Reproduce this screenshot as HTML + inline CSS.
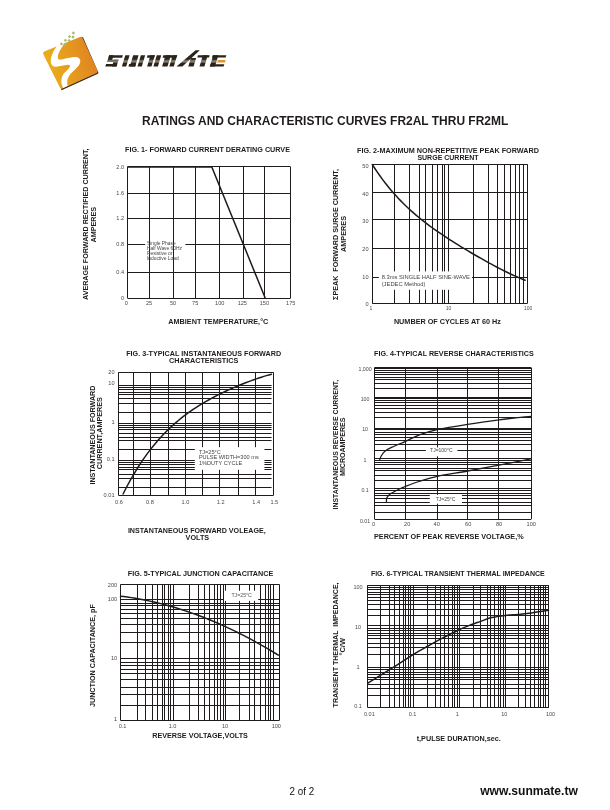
<!DOCTYPE html>
<html><head><meta charset="utf-8"><title>FR2AL THRU FR2ML</title>
<style>
html,body{margin:0;padding:0;background:#fff;}
body{width:610px;height:810px;overflow:hidden;position:relative;}
svg{position:absolute;left:0;top:0;display:block;will-change:transform;}
text{font-family:"Liberation Sans",sans-serif;}
</style></head><body>
<svg width="610" height="810" viewBox="0 0 610 810">
<rect width="610" height="810" fill="#fff"/>
<line x1="127.50" y1="166.90" x2="127.50" y2="298.00" stroke="#1f1b1c" stroke-width="1.05"/>
<line x1="149.50" y1="166.90" x2="149.50" y2="298.00" stroke="#1f1b1c" stroke-width="1.05"/>
<line x1="173.50" y1="166.90" x2="173.50" y2="298.00" stroke="#1f1b1c" stroke-width="1.05"/>
<line x1="195.50" y1="166.90" x2="195.50" y2="298.00" stroke="#1f1b1c" stroke-width="1.05"/>
<line x1="219.50" y1="166.90" x2="219.50" y2="298.00" stroke="#1f1b1c" stroke-width="1.05"/>
<line x1="243.50" y1="166.90" x2="243.50" y2="298.00" stroke="#1f1b1c" stroke-width="1.05"/>
<line x1="264.50" y1="166.90" x2="264.50" y2="298.00" stroke="#1f1b1c" stroke-width="1.05"/>
<line x1="290.50" y1="166.90" x2="290.50" y2="298.00" stroke="#1f1b1c" stroke-width="1.05"/>
<line x1="127.50" y1="166.50" x2="290.50" y2="166.50" stroke="#1f1b1c" stroke-width="1.05"/>
<line x1="127.50" y1="193.50" x2="290.50" y2="193.50" stroke="#1f1b1c" stroke-width="1.05"/>
<line x1="127.50" y1="218.50" x2="290.50" y2="218.50" stroke="#1f1b1c" stroke-width="1.05"/>
<line x1="127.50" y1="244.50" x2="145.20" y2="244.50" stroke="#1f1b1c" stroke-width="1.05"/>
<line x1="185.40" y1="244.50" x2="290.50" y2="244.50" stroke="#1f1b1c" stroke-width="1.05"/>
<line x1="127.50" y1="272.50" x2="290.50" y2="272.50" stroke="#1f1b1c" stroke-width="1.05"/>
<line x1="127.50" y1="298.50" x2="290.50" y2="298.50" stroke="#1f1b1c" stroke-width="1.05"/>
<polyline points="127.5,166.9 211.8,166.9 265.2,298" fill="none" stroke="#1f1b1c" stroke-width="1.5" stroke-linejoin="miter"/>
<text x="146.90" y="244.80" font-size="4.9" font-weight="normal" text-anchor="start" fill="#444">Single Phase</text>
<text x="146.90" y="249.85" font-size="4.9" font-weight="normal" text-anchor="start" fill="#444">Half Wave 60Hz</text>
<text x="146.90" y="254.90" font-size="4.9" font-weight="normal" text-anchor="start" fill="#444">Resistive or</text>
<text x="146.90" y="259.95" font-size="4.9" font-weight="normal" text-anchor="start" fill="#444">Inductive Load</text>
<text x="124.10" y="168.90" font-size="5.6" font-weight="normal" text-anchor="end" fill="#4a4a4a">2.0</text>
<text x="124.10" y="195.40" font-size="5.6" font-weight="normal" text-anchor="end" fill="#4a4a4a">1.6</text>
<text x="124.10" y="220.20" font-size="5.6" font-weight="normal" text-anchor="end" fill="#4a4a4a">1.2</text>
<text x="124.10" y="246.40" font-size="5.6" font-weight="normal" text-anchor="end" fill="#4a4a4a">0.8</text>
<text x="124.10" y="274.30" font-size="5.6" font-weight="normal" text-anchor="end" fill="#4a4a4a">0.4</text>
<text x="124.10" y="300.00" font-size="5.6" font-weight="normal" text-anchor="end" fill="#4a4a4a">0</text>
<text x="126.40" y="305.00" font-size="5.6" font-weight="normal" text-anchor="middle" fill="#4a4a4a">0</text>
<text x="149.00" y="305.00" font-size="5.6" font-weight="normal" text-anchor="middle" fill="#4a4a4a">25</text>
<text x="173.00" y="305.00" font-size="5.6" font-weight="normal" text-anchor="middle" fill="#4a4a4a">50</text>
<text x="195.20" y="305.00" font-size="5.6" font-weight="normal" text-anchor="middle" fill="#4a4a4a">75</text>
<text x="219.70" y="305.00" font-size="5.6" font-weight="normal" text-anchor="middle" fill="#4a4a4a">100</text>
<text x="242.30" y="305.00" font-size="5.6" font-weight="normal" text-anchor="middle" fill="#4a4a4a">125</text>
<text x="264.40" y="305.00" font-size="5.6" font-weight="normal" text-anchor="middle" fill="#4a4a4a">150</text>
<text x="290.70" y="305.00" font-size="5.6" font-weight="normal" text-anchor="middle" fill="#4a4a4a">175</text>
<text x="125.10" y="151.90" font-size="7.2" font-weight="bold" text-anchor="start" fill="#1f1b1c" textLength="164.90" lengthAdjust="spacingAndGlyphs">FIG. 1- FORWARD CURRENT DERATING CURVE</text>
<text x="87.60" y="224.20" font-size="7.2" font-weight="bold" text-anchor="middle" fill="#1f1b1c" textLength="151.60" lengthAdjust="spacingAndGlyphs" transform="rotate(-90 87.60 224.20)">AVERAGE FORWARD RECTIFIED CURRENT,</text>
<text x="96.00" y="224.65" font-size="7.2" font-weight="bold" text-anchor="middle" fill="#1f1b1c" textLength="35.70" lengthAdjust="spacingAndGlyphs" transform="rotate(-90 96.00 224.65)">AMPERES</text>
<text x="168.30" y="323.80" font-size="7.2" font-weight="bold" text-anchor="start" fill="#1f1b1c" textLength="100.00" lengthAdjust="spacingAndGlyphs">AMBIENT TEMPERATURE,°C</text>
<line x1="372.50" y1="164.30" x2="372.50" y2="303.40" stroke="#1f1b1c" stroke-width="1.05"/>
<line x1="394.50" y1="164.30" x2="394.50" y2="303.40" stroke="#1f1b1c" stroke-width="1.05"/>
<line x1="409.50" y1="164.30" x2="409.50" y2="303.40" stroke="#1f1b1c" stroke-width="1.05"/>
<line x1="419.50" y1="164.30" x2="419.50" y2="303.40" stroke="#1f1b1c" stroke-width="1.05"/>
<line x1="425.50" y1="164.30" x2="425.50" y2="303.40" stroke="#1f1b1c" stroke-width="1.05"/>
<line x1="432.50" y1="164.30" x2="432.50" y2="303.40" stroke="#1f1b1c" stroke-width="1.05"/>
<line x1="437.50" y1="164.30" x2="437.50" y2="303.40" stroke="#1f1b1c" stroke-width="1.05"/>
<line x1="442.50" y1="164.30" x2="442.50" y2="303.40" stroke="#1f1b1c" stroke-width="1.05"/>
<line x1="444.50" y1="164.30" x2="444.50" y2="303.40" stroke="#1f1b1c" stroke-width="1.05"/>
<line x1="448.50" y1="164.30" x2="448.50" y2="303.40" stroke="#1f1b1c" stroke-width="1.05"/>
<line x1="473.50" y1="164.30" x2="473.50" y2="303.40" stroke="#1f1b1c" stroke-width="1.05"/>
<line x1="488.50" y1="164.30" x2="488.50" y2="303.40" stroke="#1f1b1c" stroke-width="1.05"/>
<line x1="497.50" y1="164.30" x2="497.50" y2="303.40" stroke="#1f1b1c" stroke-width="1.05"/>
<line x1="504.50" y1="164.30" x2="504.50" y2="303.40" stroke="#1f1b1c" stroke-width="1.05"/>
<line x1="510.50" y1="164.30" x2="510.50" y2="303.40" stroke="#1f1b1c" stroke-width="1.05"/>
<line x1="515.50" y1="164.30" x2="515.50" y2="303.40" stroke="#1f1b1c" stroke-width="1.05"/>
<line x1="519.50" y1="164.30" x2="519.50" y2="303.40" stroke="#1f1b1c" stroke-width="1.05"/>
<line x1="523.50" y1="164.30" x2="523.50" y2="303.40" stroke="#1f1b1c" stroke-width="1.05"/>
<line x1="527.50" y1="164.30" x2="527.50" y2="303.40" stroke="#1f1b1c" stroke-width="1.05"/>
<line x1="372.30" y1="164.50" x2="527.40" y2="164.50" stroke="#1f1b1c" stroke-width="1.05"/>
<line x1="372.30" y1="192.50" x2="527.40" y2="192.50" stroke="#1f1b1c" stroke-width="1.05"/>
<line x1="372.30" y1="219.50" x2="527.40" y2="219.50" stroke="#1f1b1c" stroke-width="1.05"/>
<line x1="372.30" y1="248.50" x2="527.40" y2="248.50" stroke="#1f1b1c" stroke-width="1.05"/>
<line x1="372.30" y1="277.50" x2="527.40" y2="277.50" stroke="#1f1b1c" stroke-width="1.05"/>
<line x1="372.30" y1="303.50" x2="527.40" y2="303.50" stroke="#1f1b1c" stroke-width="1.05"/>
<rect x="378.80" y="271.40" width="93.20" height="18.40" fill="#fff"/>
<text x="381.70" y="279.00" font-size="5.8" font-weight="normal" text-anchor="start" fill="#444" textLength="88.30" lengthAdjust="spacingAndGlyphs">8.3ms SINGLE HALF SINE-WAVE</text>
<text x="381.70" y="285.60" font-size="5.8" font-weight="normal" text-anchor="start" fill="#444" textLength="43.80" lengthAdjust="spacingAndGlyphs">(JEDEC Method)</text>
<path d="M372.30,164.53 L374.89,168.53 L377.48,172.37 L380.07,176.05 L382.66,179.59 L385.25,183.00 L387.84,186.27 L390.43,189.41 L393.02,192.44 L395.61,195.36 L398.20,198.17 L400.79,200.88 L403.38,203.49 L405.97,206.02 L408.56,208.46 L411.15,210.83 L413.74,213.12 L416.33,215.34 L418.92,217.50 L421.51,219.60 L424.10,221.64 L426.69,223.64 L429.28,225.58 L431.87,227.48 L434.46,229.34 L437.05,231.16 L439.64,232.95 L442.23,234.70 L444.82,236.43 L447.41,238.13 L449.99,239.80 L452.58,241.45 L455.17,243.08 L457.76,244.69 L460.35,246.28 L462.94,247.86 L465.53,249.42 L468.12,250.96 L470.71,252.49 L473.30,254.00 L475.89,255.51 L478.48,256.99 L481.07,258.47 L483.66,259.93 L486.25,261.37 L488.84,262.80 L491.43,264.21 L494.02,265.60 L496.61,266.98 L499.20,268.33 L501.79,269.66 L504.38,270.97 L506.97,272.25 L509.56,273.50 L512.15,274.72 L514.74,275.91 L517.33,277.06 L519.92,278.16 L522.51,279.23 L525.10,280.25" fill="none" stroke="#1f1b1c" stroke-width="1.5" stroke-linecap="round" stroke-linejoin="round"/>
<text x="368.50" y="168.30" font-size="5.6" font-weight="normal" text-anchor="end" fill="#4a4a4a">50</text>
<text x="368.50" y="195.80" font-size="5.6" font-weight="normal" text-anchor="end" fill="#4a4a4a">40</text>
<text x="368.50" y="222.60" font-size="5.6" font-weight="normal" text-anchor="end" fill="#4a4a4a">30</text>
<text x="368.50" y="251.10" font-size="5.6" font-weight="normal" text-anchor="end" fill="#4a4a4a">20</text>
<text x="368.50" y="278.60" font-size="5.6" font-weight="normal" text-anchor="end" fill="#4a4a4a">10</text>
<text x="368.50" y="305.60" font-size="5.6" font-weight="normal" text-anchor="end" fill="#4a4a4a">0</text>
<text x="370.90" y="310.30" font-size="5.0" font-weight="normal" text-anchor="middle" fill="#4a4a4a">1</text>
<text x="448.50" y="310.30" font-size="5.0" font-weight="normal" text-anchor="middle" fill="#4a4a4a">10</text>
<text x="528.10" y="310.30" font-size="5.0" font-weight="normal" text-anchor="middle" fill="#4a4a4a">100</text>
<text x="357.00" y="152.70" font-size="7.2" font-weight="bold" text-anchor="start" fill="#1f1b1c" textLength="181.90" lengthAdjust="spacingAndGlyphs">FIG. 2-MAXIMUM NON-REPETITIVE PEAK FORWARD</text>
<text x="417.40" y="159.90" font-size="7.2" font-weight="bold" text-anchor="start" fill="#1f1b1c" textLength="61.10" lengthAdjust="spacingAndGlyphs">SURGE CURRENT</text>
<text x="338.00" y="234.50" font-size="7.2" font-weight="bold" text-anchor="middle" fill="#1f1b1c" textLength="130.80" lengthAdjust="spacingAndGlyphs" transform="rotate(-90 338.00 234.50)" style="white-space:pre">ΣPEAK  FORWARD SURGE CURRENT,</text>
<text x="345.90" y="234.00" font-size="7.2" font-weight="bold" text-anchor="middle" fill="#1f1b1c" textLength="36.00" lengthAdjust="spacingAndGlyphs" transform="rotate(-90 345.90 234.00)">AMPERES</text>
<text x="393.90" y="324.00" font-size="7.2" font-weight="bold" text-anchor="start" fill="#1f1b1c" textLength="107.10" lengthAdjust="spacingAndGlyphs">NUMBER OF CYCLES AT 60 Hz</text>
<line x1="118.40" y1="372.50" x2="273.60" y2="372.50" stroke="#1f1b1c" stroke-width="1.05"/>
<line x1="118.40" y1="495.50" x2="273.60" y2="495.50" stroke="#1f1b1c" stroke-width="1.05"/>
<line x1="118.50" y1="372.40" x2="118.50" y2="495.20" stroke="#1f1b1c" stroke-width="1.05"/>
<line x1="273.50" y1="372.40" x2="273.50" y2="495.20" stroke="#1f1b1c" stroke-width="1.05"/>
<line x1="133.50" y1="372.40" x2="133.50" y2="495.20" stroke="#1f1b1c" stroke-width="1.05"/>
<line x1="150.50" y1="372.40" x2="150.50" y2="495.20" stroke="#1f1b1c" stroke-width="1.05"/>
<line x1="168.50" y1="372.40" x2="168.50" y2="495.20" stroke="#1f1b1c" stroke-width="1.05"/>
<line x1="185.50" y1="372.40" x2="185.50" y2="495.20" stroke="#1f1b1c" stroke-width="1.05"/>
<line x1="202.50" y1="372.40" x2="202.50" y2="447.20" stroke="#1f1b1c" stroke-width="1.05"/>
<line x1="202.50" y1="469.80" x2="202.50" y2="495.20" stroke="#1f1b1c" stroke-width="1.05"/>
<line x1="219.50" y1="372.40" x2="219.50" y2="447.20" stroke="#1f1b1c" stroke-width="1.05"/>
<line x1="219.50" y1="469.80" x2="219.50" y2="495.20" stroke="#1f1b1c" stroke-width="1.05"/>
<line x1="238.50" y1="372.40" x2="238.50" y2="447.20" stroke="#1f1b1c" stroke-width="1.05"/>
<line x1="238.50" y1="469.80" x2="238.50" y2="495.20" stroke="#1f1b1c" stroke-width="1.05"/>
<line x1="255.50" y1="372.40" x2="255.50" y2="447.20" stroke="#1f1b1c" stroke-width="1.05"/>
<line x1="255.50" y1="469.80" x2="255.50" y2="495.20" stroke="#1f1b1c" stroke-width="1.05"/>
<line x1="118.40" y1="385.50" x2="271.60" y2="385.50" stroke="#1f1b1c" stroke-width="1.05"/>
<line x1="118.40" y1="387.50" x2="271.60" y2="387.50" stroke="#1f1b1c" stroke-width="1.05"/>
<line x1="118.40" y1="389.50" x2="271.60" y2="389.50" stroke="#1f1b1c" stroke-width="1.05"/>
<line x1="118.40" y1="392.50" x2="271.60" y2="392.50" stroke="#1f1b1c" stroke-width="1.05"/>
<line x1="118.40" y1="394.50" x2="271.60" y2="394.50" stroke="#1f1b1c" stroke-width="1.05"/>
<line x1="118.40" y1="398.50" x2="271.60" y2="398.50" stroke="#1f1b1c" stroke-width="1.05"/>
<line x1="118.40" y1="403.50" x2="271.60" y2="403.50" stroke="#1f1b1c" stroke-width="1.05"/>
<line x1="118.40" y1="412.50" x2="271.60" y2="412.50" stroke="#1f1b1c" stroke-width="1.05"/>
<line x1="118.40" y1="423.50" x2="271.60" y2="423.50" stroke="#1f1b1c" stroke-width="1.05"/>
<line x1="118.40" y1="425.50" x2="271.60" y2="425.50" stroke="#1f1b1c" stroke-width="1.05"/>
<line x1="118.40" y1="427.50" x2="271.60" y2="427.50" stroke="#1f1b1c" stroke-width="1.05"/>
<line x1="118.40" y1="429.50" x2="271.60" y2="429.50" stroke="#1f1b1c" stroke-width="1.05"/>
<line x1="118.40" y1="433.50" x2="271.60" y2="433.50" stroke="#1f1b1c" stroke-width="1.05"/>
<line x1="118.40" y1="437.50" x2="271.60" y2="437.50" stroke="#1f1b1c" stroke-width="1.05"/>
<line x1="118.40" y1="440.50" x2="271.60" y2="440.50" stroke="#1f1b1c" stroke-width="1.05"/>
<line x1="118.40" y1="449.50" x2="194.80" y2="449.50" stroke="#1f1b1c" stroke-width="1.05"/>
<line x1="264.40" y1="449.50" x2="271.60" y2="449.50" stroke="#1f1b1c" stroke-width="1.05"/>
<line x1="118.40" y1="460.50" x2="194.80" y2="460.50" stroke="#1f1b1c" stroke-width="1.05"/>
<line x1="264.40" y1="460.50" x2="271.60" y2="460.50" stroke="#1f1b1c" stroke-width="1.05"/>
<line x1="118.40" y1="462.50" x2="194.80" y2="462.50" stroke="#1f1b1c" stroke-width="1.05"/>
<line x1="264.40" y1="462.50" x2="271.60" y2="462.50" stroke="#1f1b1c" stroke-width="1.05"/>
<line x1="118.40" y1="464.50" x2="194.80" y2="464.50" stroke="#1f1b1c" stroke-width="1.05"/>
<line x1="264.40" y1="464.50" x2="271.60" y2="464.50" stroke="#1f1b1c" stroke-width="1.05"/>
<line x1="118.40" y1="467.50" x2="194.80" y2="467.50" stroke="#1f1b1c" stroke-width="1.05"/>
<line x1="264.40" y1="467.50" x2="271.60" y2="467.50" stroke="#1f1b1c" stroke-width="1.05"/>
<line x1="118.40" y1="469.50" x2="194.80" y2="469.50" stroke="#1f1b1c" stroke-width="1.05"/>
<line x1="264.40" y1="469.50" x2="271.60" y2="469.50" stroke="#1f1b1c" stroke-width="1.05"/>
<line x1="118.40" y1="474.50" x2="271.60" y2="474.50" stroke="#1f1b1c" stroke-width="1.05"/>
<line x1="118.40" y1="478.50" x2="271.60" y2="478.50" stroke="#1f1b1c" stroke-width="1.05"/>
<line x1="118.40" y1="487.50" x2="271.60" y2="487.50" stroke="#1f1b1c" stroke-width="1.05"/>
<text x="198.90" y="453.50" font-size="5.6" font-weight="normal" text-anchor="start" fill="#444">TJ=25°C</text>
<text x="198.90" y="458.60" font-size="5.6" font-weight="normal" text-anchor="start" fill="#444" textLength="59.80" lengthAdjust="spacingAndGlyphs">PULSE WIDTH=300 ms</text>
<text x="198.90" y="464.70" font-size="5.6" font-weight="normal" text-anchor="start" fill="#444">1%DUTY CYCLE</text>
<path d="M123.10,494.00 L125.61,489.03 L128.13,484.26 L130.64,479.68 L133.15,475.29 L135.67,471.07 L138.18,467.02 L140.69,463.14 L143.21,459.41 L145.72,455.84 L148.24,452.41 L150.75,449.11 L153.26,445.95 L155.78,442.92 L158.29,440.01 L160.80,437.21 L163.32,434.53 L165.83,431.95 L168.34,429.47 L170.86,427.09 L173.37,424.79 L175.88,422.58 L178.40,420.46 L180.91,418.41 L183.43,416.44 L185.94,414.54 L188.45,412.70 L190.97,410.92 L193.48,409.21 L195.99,407.55 L198.51,405.94 L201.02,404.38 L203.53,402.87 L206.05,401.41 L208.56,399.99 L211.07,398.60 L213.59,397.26 L216.10,395.95 L218.62,394.67 L221.13,393.43 L223.64,392.22 L226.16,391.03 L228.67,389.88 L231.18,388.75 L233.70,387.65 L236.21,386.58 L238.72,385.53 L241.24,384.50 L243.75,383.50 L246.26,382.53 L248.78,381.58 L251.29,380.65 L253.81,379.75 L256.32,378.87 L258.83,378.03 L261.35,377.21 L263.86,376.41 L266.37,375.65 L268.89,374.92 L271.40,374.22" fill="none" stroke="#1f1b1c" stroke-width="1.5" stroke-linecap="round" stroke-linejoin="round"/>
<text x="114.50" y="374.20" font-size="5.6" font-weight="normal" text-anchor="end" fill="#4a4a4a">20</text>
<text x="114.50" y="384.90" font-size="5.6" font-weight="normal" text-anchor="end" fill="#4a4a4a">10</text>
<text x="114.50" y="423.90" font-size="5.6" font-weight="normal" text-anchor="end" fill="#4a4a4a">1</text>
<text x="114.50" y="461.00" font-size="5.6" font-weight="normal" text-anchor="end" fill="#4a4a4a">0.1</text>
<text x="114.50" y="496.80" font-size="5.6" font-weight="normal" text-anchor="end" fill="#4a4a4a">0.01</text>
<text x="119.00" y="504.00" font-size="5.6" font-weight="normal" text-anchor="middle" fill="#4a4a4a">0.6</text>
<text x="149.90" y="504.00" font-size="5.6" font-weight="normal" text-anchor="middle" fill="#4a4a4a">0.8</text>
<text x="185.40" y="504.00" font-size="5.6" font-weight="normal" text-anchor="middle" fill="#4a4a4a">1.0</text>
<text x="220.70" y="504.00" font-size="5.6" font-weight="normal" text-anchor="middle" fill="#4a4a4a">1.2</text>
<text x="256.20" y="504.00" font-size="5.6" font-weight="normal" text-anchor="middle" fill="#4a4a4a">1.4</text>
<text x="274.30" y="504.00" font-size="5.6" font-weight="normal" text-anchor="middle" fill="#4a4a4a">1.5</text>
<text x="126.20" y="356.30" font-size="7.2" font-weight="bold" text-anchor="start" fill="#1f1b1c" textLength="154.90" lengthAdjust="spacingAndGlyphs">FIG. 3-TYPICAL INSTANTANEOUS FORWARD</text>
<text x="169.00" y="362.80" font-size="7.2" font-weight="bold" text-anchor="start" fill="#1f1b1c" textLength="69.30" lengthAdjust="spacingAndGlyphs">CHARACTERISTICS</text>
<text x="95.00" y="435.10" font-size="7.2" font-weight="bold" text-anchor="middle" fill="#1f1b1c" textLength="99.00" lengthAdjust="spacingAndGlyphs" transform="rotate(-90 95.00 435.10)">INSTANTANEOUS FORWARD</text>
<text x="102.50" y="433.20" font-size="7.2" font-weight="bold" text-anchor="middle" fill="#1f1b1c" textLength="72.00" lengthAdjust="spacingAndGlyphs" transform="rotate(-90 102.50 433.20)">CURRENT,AMPERES</text>
<text x="127.90" y="532.80" font-size="7.2" font-weight="bold" text-anchor="start" fill="#1f1b1c" textLength="137.80" lengthAdjust="spacingAndGlyphs">INSTANTANEOUS FORWARD VOLEAGE,</text>
<text x="185.60" y="540.30" font-size="7.2" font-weight="bold" text-anchor="start" fill="#1f1b1c" textLength="23.60" lengthAdjust="spacingAndGlyphs">VOLTS</text>
<line x1="374.50" y1="367.90" x2="374.50" y2="519.10" stroke="#1f1b1c" stroke-width="1.05"/>
<line x1="405.50" y1="367.90" x2="405.50" y2="519.10" stroke="#1f1b1c" stroke-width="1.05"/>
<line x1="437.50" y1="367.90" x2="437.50" y2="519.10" stroke="#1f1b1c" stroke-width="1.05"/>
<line x1="467.50" y1="367.90" x2="467.50" y2="519.10" stroke="#1f1b1c" stroke-width="1.05"/>
<line x1="498.50" y1="367.90" x2="498.50" y2="519.10" stroke="#1f1b1c" stroke-width="1.05"/>
<line x1="531.50" y1="367.90" x2="531.50" y2="519.10" stroke="#1f1b1c" stroke-width="1.05"/>
<line x1="374.60" y1="370.50" x2="531.20" y2="370.50" stroke="#1f1b1c" stroke-width="1.05"/>
<line x1="374.60" y1="372.50" x2="531.20" y2="372.50" stroke="#1f1b1c" stroke-width="1.05"/>
<line x1="374.60" y1="374.50" x2="531.20" y2="374.50" stroke="#1f1b1c" stroke-width="1.05"/>
<line x1="374.60" y1="377.50" x2="531.20" y2="377.50" stroke="#1f1b1c" stroke-width="1.05"/>
<line x1="374.60" y1="379.50" x2="531.20" y2="379.50" stroke="#1f1b1c" stroke-width="1.05"/>
<line x1="374.60" y1="383.50" x2="531.20" y2="383.50" stroke="#1f1b1c" stroke-width="1.05"/>
<line x1="374.60" y1="388.50" x2="531.20" y2="388.50" stroke="#1f1b1c" stroke-width="1.05"/>
<line x1="374.60" y1="397.50" x2="531.20" y2="397.50" stroke="#1f1b1c" stroke-width="1.05"/>
<line x1="374.60" y1="400.50" x2="531.20" y2="400.50" stroke="#1f1b1c" stroke-width="1.05"/>
<line x1="374.60" y1="402.50" x2="531.20" y2="402.50" stroke="#1f1b1c" stroke-width="1.05"/>
<line x1="374.60" y1="405.50" x2="531.20" y2="405.50" stroke="#1f1b1c" stroke-width="1.05"/>
<line x1="374.60" y1="408.50" x2="531.20" y2="408.50" stroke="#1f1b1c" stroke-width="1.05"/>
<line x1="374.60" y1="412.50" x2="531.20" y2="412.50" stroke="#1f1b1c" stroke-width="1.05"/>
<line x1="374.60" y1="417.50" x2="531.20" y2="417.50" stroke="#1f1b1c" stroke-width="1.05"/>
<line x1="374.60" y1="428.50" x2="531.20" y2="428.50" stroke="#1f1b1c" stroke-width="1.05"/>
<line x1="374.60" y1="432.50" x2="531.20" y2="432.50" stroke="#1f1b1c" stroke-width="1.05"/>
<line x1="374.60" y1="434.50" x2="531.20" y2="434.50" stroke="#1f1b1c" stroke-width="1.05"/>
<line x1="374.60" y1="437.50" x2="531.20" y2="437.50" stroke="#1f1b1c" stroke-width="1.05"/>
<line x1="374.60" y1="440.50" x2="531.20" y2="440.50" stroke="#1f1b1c" stroke-width="1.05"/>
<line x1="374.60" y1="444.50" x2="531.20" y2="444.50" stroke="#1f1b1c" stroke-width="1.05"/>
<line x1="374.60" y1="450.50" x2="425.90" y2="450.50" stroke="#1f1b1c" stroke-width="1.05"/>
<line x1="457.40" y1="450.50" x2="531.20" y2="450.50" stroke="#1f1b1c" stroke-width="1.05"/>
<line x1="374.60" y1="458.50" x2="531.20" y2="458.50" stroke="#1f1b1c" stroke-width="1.05"/>
<line x1="374.60" y1="460.50" x2="531.20" y2="460.50" stroke="#1f1b1c" stroke-width="1.05"/>
<line x1="374.60" y1="462.50" x2="531.20" y2="462.50" stroke="#1f1b1c" stroke-width="1.05"/>
<line x1="374.60" y1="464.50" x2="531.20" y2="464.50" stroke="#1f1b1c" stroke-width="1.05"/>
<line x1="374.60" y1="468.50" x2="531.20" y2="468.50" stroke="#1f1b1c" stroke-width="1.05"/>
<line x1="374.60" y1="470.50" x2="531.20" y2="470.50" stroke="#1f1b1c" stroke-width="1.05"/>
<line x1="374.60" y1="475.50" x2="531.20" y2="475.50" stroke="#1f1b1c" stroke-width="1.05"/>
<line x1="374.60" y1="480.50" x2="531.20" y2="480.50" stroke="#1f1b1c" stroke-width="1.05"/>
<line x1="374.60" y1="488.50" x2="531.20" y2="488.50" stroke="#1f1b1c" stroke-width="1.05"/>
<line x1="374.60" y1="490.50" x2="531.20" y2="490.50" stroke="#1f1b1c" stroke-width="1.05"/>
<line x1="374.60" y1="493.50" x2="531.20" y2="493.50" stroke="#1f1b1c" stroke-width="1.05"/>
<line x1="374.60" y1="495.50" x2="429.80" y2="495.50" stroke="#1f1b1c" stroke-width="1.05"/>
<line x1="461.90" y1="495.50" x2="531.20" y2="495.50" stroke="#1f1b1c" stroke-width="1.05"/>
<line x1="374.60" y1="498.50" x2="429.80" y2="498.50" stroke="#1f1b1c" stroke-width="1.05"/>
<line x1="461.90" y1="498.50" x2="531.20" y2="498.50" stroke="#1f1b1c" stroke-width="1.05"/>
<line x1="374.60" y1="502.50" x2="429.80" y2="502.50" stroke="#1f1b1c" stroke-width="1.05"/>
<line x1="461.90" y1="502.50" x2="531.20" y2="502.50" stroke="#1f1b1c" stroke-width="1.05"/>
<line x1="374.60" y1="505.50" x2="531.20" y2="505.50" stroke="#1f1b1c" stroke-width="1.05"/>
<line x1="374.60" y1="512.50" x2="531.20" y2="512.50" stroke="#1f1b1c" stroke-width="1.05"/>
<line x1="374.60" y1="367.50" x2="531.20" y2="367.50" stroke="#1f1b1c" stroke-width="1.05"/>
<line x1="374.60" y1="519.50" x2="531.20" y2="519.50" stroke="#1f1b1c" stroke-width="1.05"/>
<line x1="374.60" y1="368.00" x2="531.20" y2="368.00" stroke="#1f1b1c" stroke-width="2.0"/>
<line x1="374.60" y1="398.00" x2="531.20" y2="398.00" stroke="#1f1b1c" stroke-width="2.0"/>
<line x1="374.60" y1="429.00" x2="531.20" y2="429.00" stroke="#1f1b1c" stroke-width="2.0"/>
<rect x="426.40" y="447.40" width="30.50" height="8.90" fill="#fff"/>
<rect x="430.30" y="494.80" width="31.10" height="8.80" fill="#fff"/>
<text x="441.30" y="452.40" font-size="5.0" font-weight="normal" text-anchor="middle" fill="#444">TJ=100°C</text>
<text x="445.50" y="501.10" font-size="5.0" font-weight="normal" text-anchor="middle" fill="#444">TJ=25°C</text>
<path d="M379.70,459.70 C380.00,459.00 380.62,456.92 381.50,455.50 C382.38,454.08 383.25,452.58 385.00,451.20 C386.75,449.82 388.58,448.85 392.00,447.20 C395.42,445.55 400.83,443.40 405.50,441.30 C410.17,439.20 414.70,436.53 420.00,434.60 C425.30,432.67 429.37,431.40 437.30,429.70 C445.23,428.00 457.30,426.05 467.60,424.40 C477.90,422.75 488.57,421.15 499.10,419.80 C509.63,418.45 525.52,416.88 530.80,416.30" fill="none" stroke="#1f1b1c" stroke-width="1.3" stroke-linecap="round" stroke-linejoin="round"/>
<path d="M386.50,501.80 C386.53,501.22 386.20,499.53 386.70,498.30 C387.20,497.07 387.40,495.95 389.50,494.40 C391.60,492.85 396.68,490.32 399.30,489.00 C401.92,487.68 401.92,487.75 405.20,486.50 C408.48,485.25 413.65,483.20 419.00,481.50 C424.35,479.80 429.20,478.05 437.30,476.30 C445.40,474.55 457.30,472.87 467.60,471.00 C477.90,469.13 488.57,467.13 499.10,465.10 C509.63,463.07 525.52,459.85 530.80,458.80" fill="none" stroke="#1f1b1c" stroke-width="1.3" stroke-linecap="round" stroke-linejoin="round"/>
<text x="365.10" y="371.00" font-size="5.3" font-weight="normal" text-anchor="middle" fill="#4a4a4a">1,000</text>
<text x="365.10" y="401.00" font-size="5.3" font-weight="normal" text-anchor="middle" fill="#4a4a4a">100</text>
<text x="365.10" y="430.70" font-size="5.3" font-weight="normal" text-anchor="middle" fill="#4a4a4a">10</text>
<text x="365.10" y="462.10" font-size="5.3" font-weight="normal" text-anchor="middle" fill="#4a4a4a">1</text>
<text x="365.10" y="491.80" font-size="5.3" font-weight="normal" text-anchor="middle" fill="#4a4a4a">0.1</text>
<text x="365.10" y="522.90" font-size="5.3" font-weight="normal" text-anchor="middle" fill="#4a4a4a">0.01</text>
<text x="373.60" y="526.00" font-size="5.6" font-weight="normal" text-anchor="middle" fill="#4a4a4a">0</text>
<text x="407.20" y="526.00" font-size="5.6" font-weight="normal" text-anchor="middle" fill="#4a4a4a">20</text>
<text x="436.70" y="526.00" font-size="5.6" font-weight="normal" text-anchor="middle" fill="#4a4a4a">40</text>
<text x="468.20" y="526.00" font-size="5.6" font-weight="normal" text-anchor="middle" fill="#4a4a4a">60</text>
<text x="499.10" y="526.00" font-size="5.6" font-weight="normal" text-anchor="middle" fill="#4a4a4a">80</text>
<text x="531.20" y="526.00" font-size="5.6" font-weight="normal" text-anchor="middle" fill="#4a4a4a">100</text>
<text x="374.00" y="355.90" font-size="7.2" font-weight="bold" text-anchor="start" fill="#1f1b1c" textLength="159.80" lengthAdjust="spacingAndGlyphs">FIG. 4-TYPICAL REVERSE CHARACTERISTICS</text>
<text x="337.90" y="444.60" font-size="7.2" font-weight="bold" text-anchor="middle" fill="#1f1b1c" textLength="129.60" lengthAdjust="spacingAndGlyphs" transform="rotate(-90 337.90 444.60)">INSTANTANEOUS REVERSE CURRENT,</text>
<text x="345.20" y="446.80" font-size="7.2" font-weight="bold" text-anchor="middle" fill="#1f1b1c" textLength="58.40" lengthAdjust="spacingAndGlyphs" transform="rotate(-90 345.20 446.80)">MICROAMPERES</text>
<text x="374.00" y="539.30" font-size="7.2" font-weight="bold" text-anchor="start" fill="#1f1b1c" textLength="149.60" lengthAdjust="spacingAndGlyphs">PERCENT OF PEAK REVERSE VOLTAGE,%</text>
<line x1="120.40" y1="584.50" x2="279.50" y2="584.50" stroke="#1f1b1c" stroke-width="1.05"/>
<line x1="120.40" y1="720.50" x2="279.50" y2="720.50" stroke="#1f1b1c" stroke-width="1.05"/>
<line x1="120.50" y1="584.50" x2="120.50" y2="720.20" stroke="#1f1b1c" stroke-width="1.05"/>
<line x1="137.50" y1="584.50" x2="137.50" y2="720.20" stroke="#1f1b1c" stroke-width="1.05"/>
<line x1="145.50" y1="584.50" x2="145.50" y2="720.20" stroke="#1f1b1c" stroke-width="1.05"/>
<line x1="152.50" y1="584.50" x2="152.50" y2="720.20" stroke="#1f1b1c" stroke-width="1.05"/>
<line x1="157.50" y1="584.50" x2="157.50" y2="720.20" stroke="#1f1b1c" stroke-width="1.05"/>
<line x1="162.50" y1="584.50" x2="162.50" y2="720.20" stroke="#1f1b1c" stroke-width="1.05"/>
<line x1="164.50" y1="584.50" x2="164.50" y2="720.20" stroke="#1f1b1c" stroke-width="1.05"/>
<line x1="168.50" y1="584.50" x2="168.50" y2="720.20" stroke="#1f1b1c" stroke-width="1.05"/>
<line x1="170.50" y1="584.50" x2="170.50" y2="720.20" stroke="#1f1b1c" stroke-width="1.05"/>
<line x1="173.50" y1="584.50" x2="173.50" y2="720.20" stroke="#1f1b1c" stroke-width="1.05"/>
<line x1="189.50" y1="584.50" x2="189.50" y2="720.20" stroke="#1f1b1c" stroke-width="1.05"/>
<line x1="198.50" y1="584.50" x2="198.50" y2="720.20" stroke="#1f1b1c" stroke-width="1.05"/>
<line x1="204.50" y1="584.50" x2="204.50" y2="720.20" stroke="#1f1b1c" stroke-width="1.05"/>
<line x1="209.50" y1="584.50" x2="209.50" y2="720.20" stroke="#1f1b1c" stroke-width="1.05"/>
<line x1="214.50" y1="584.50" x2="214.50" y2="720.20" stroke="#1f1b1c" stroke-width="1.05"/>
<line x1="217.50" y1="584.50" x2="217.50" y2="720.20" stroke="#1f1b1c" stroke-width="1.05"/>
<line x1="220.50" y1="584.50" x2="220.50" y2="720.20" stroke="#1f1b1c" stroke-width="1.05"/>
<line x1="223.50" y1="584.50" x2="223.50" y2="720.20" stroke="#1f1b1c" stroke-width="1.05"/>
<line x1="225.50" y1="584.50" x2="225.50" y2="590.70" stroke="#1f1b1c" stroke-width="1.05"/>
<line x1="225.50" y1="600.90" x2="225.50" y2="720.20" stroke="#1f1b1c" stroke-width="1.05"/>
<line x1="239.50" y1="584.50" x2="239.50" y2="590.70" stroke="#1f1b1c" stroke-width="1.05"/>
<line x1="239.50" y1="600.90" x2="239.50" y2="720.20" stroke="#1f1b1c" stroke-width="1.05"/>
<line x1="249.50" y1="584.50" x2="249.50" y2="590.70" stroke="#1f1b1c" stroke-width="1.05"/>
<line x1="249.50" y1="600.90" x2="249.50" y2="720.20" stroke="#1f1b1c" stroke-width="1.05"/>
<line x1="254.50" y1="584.50" x2="254.50" y2="590.70" stroke="#1f1b1c" stroke-width="1.05"/>
<line x1="254.50" y1="600.90" x2="254.50" y2="720.20" stroke="#1f1b1c" stroke-width="1.05"/>
<line x1="260.50" y1="584.50" x2="260.50" y2="720.20" stroke="#1f1b1c" stroke-width="1.05"/>
<line x1="265.50" y1="584.50" x2="265.50" y2="720.20" stroke="#1f1b1c" stroke-width="1.05"/>
<line x1="268.50" y1="584.50" x2="268.50" y2="720.20" stroke="#1f1b1c" stroke-width="1.05"/>
<line x1="270.50" y1="584.50" x2="270.50" y2="720.20" stroke="#1f1b1c" stroke-width="1.05"/>
<line x1="273.50" y1="584.50" x2="273.50" y2="720.20" stroke="#1f1b1c" stroke-width="1.05"/>
<line x1="279.50" y1="584.50" x2="279.50" y2="720.20" stroke="#1f1b1c" stroke-width="1.05"/>
<line x1="120.40" y1="599.50" x2="223.60" y2="599.50" stroke="#1f1b1c" stroke-width="1.05"/>
<line x1="258.20" y1="599.50" x2="279.50" y2="599.50" stroke="#1f1b1c" stroke-width="1.05"/>
<line x1="120.40" y1="603.50" x2="279.50" y2="603.50" stroke="#1f1b1c" stroke-width="1.05"/>
<line x1="120.40" y1="605.50" x2="279.50" y2="605.50" stroke="#1f1b1c" stroke-width="1.05"/>
<line x1="120.40" y1="609.50" x2="279.50" y2="609.50" stroke="#1f1b1c" stroke-width="1.05"/>
<line x1="120.40" y1="613.50" x2="279.50" y2="613.50" stroke="#1f1b1c" stroke-width="1.05"/>
<line x1="120.40" y1="618.50" x2="279.50" y2="618.50" stroke="#1f1b1c" stroke-width="1.05"/>
<line x1="120.40" y1="624.50" x2="279.50" y2="624.50" stroke="#1f1b1c" stroke-width="1.05"/>
<line x1="120.40" y1="632.50" x2="279.50" y2="632.50" stroke="#1f1b1c" stroke-width="1.05"/>
<line x1="120.40" y1="642.50" x2="279.50" y2="642.50" stroke="#1f1b1c" stroke-width="1.05"/>
<line x1="120.40" y1="658.50" x2="279.50" y2="658.50" stroke="#1f1b1c" stroke-width="1.05"/>
<line x1="120.40" y1="662.50" x2="279.50" y2="662.50" stroke="#1f1b1c" stroke-width="1.05"/>
<line x1="120.40" y1="665.50" x2="279.50" y2="665.50" stroke="#1f1b1c" stroke-width="1.05"/>
<line x1="120.40" y1="669.50" x2="279.50" y2="669.50" stroke="#1f1b1c" stroke-width="1.05"/>
<line x1="120.40" y1="673.50" x2="279.50" y2="673.50" stroke="#1f1b1c" stroke-width="1.05"/>
<line x1="120.40" y1="679.50" x2="279.50" y2="679.50" stroke="#1f1b1c" stroke-width="1.05"/>
<line x1="120.40" y1="687.50" x2="279.50" y2="687.50" stroke="#1f1b1c" stroke-width="1.05"/>
<line x1="120.40" y1="694.50" x2="279.50" y2="694.50" stroke="#1f1b1c" stroke-width="1.05"/>
<line x1="120.40" y1="705.50" x2="279.50" y2="705.50" stroke="#1f1b1c" stroke-width="1.05"/>
<text x="231.40" y="597.30" font-size="5.7" font-weight="normal" text-anchor="start" fill="#555" textLength="20.50" lengthAdjust="spacingAndGlyphs">TJ=25°C</text>
<path d="M120.50,596.15 L123.17,596.48 L125.85,596.84 L128.52,597.23 L131.20,597.63 L133.87,598.06 L136.55,598.51 L139.22,598.99 L141.90,599.49 L144.57,600.01 L147.25,600.55 L149.92,601.12 L152.59,601.71 L155.27,602.33 L157.94,602.97 L160.62,603.63 L163.29,604.31 L165.97,605.02 L168.64,605.75 L171.32,606.50 L173.99,607.28 L176.67,608.08 L179.34,608.90 L182.02,609.74 L184.69,610.61 L187.36,611.50 L190.04,612.41 L192.71,613.35 L195.39,614.31 L198.06,615.29 L200.74,616.29 L203.41,617.32 L206.09,618.37 L208.76,619.44 L211.44,620.54 L214.11,621.65 L216.78,622.79 L219.46,623.95 L222.13,625.14 L224.81,626.34 L227.48,627.57 L230.16,628.82 L232.83,630.10 L235.51,631.39 L238.18,632.71 L240.86,634.05 L243.53,635.42 L246.21,636.80 L248.88,638.21 L251.55,639.64 L254.23,641.09 L256.90,642.56 L259.58,644.05 L262.25,645.57 L264.93,647.11 L267.60,648.67 L270.28,650.25 L272.95,651.86 L275.63,653.49 L278.30,655.13" fill="none" stroke="#1f1b1c" stroke-width="1.5" stroke-linecap="round" stroke-linejoin="round"/>
<text x="117.20" y="587.20" font-size="5.6" font-weight="normal" text-anchor="end" fill="#4a4a4a">200</text>
<text x="117.20" y="600.90" font-size="5.6" font-weight="normal" text-anchor="end" fill="#4a4a4a">100</text>
<text x="117.20" y="659.80" font-size="5.6" font-weight="normal" text-anchor="end" fill="#4a4a4a">10</text>
<text x="117.20" y="721.00" font-size="5.6" font-weight="normal" text-anchor="end" fill="#4a4a4a">1</text>
<text x="122.60" y="728.10" font-size="5.6" font-weight="normal" text-anchor="middle" fill="#4a4a4a">0.1</text>
<text x="172.60" y="728.10" font-size="5.6" font-weight="normal" text-anchor="middle" fill="#4a4a4a">1.0</text>
<text x="225.10" y="728.10" font-size="5.6" font-weight="normal" text-anchor="middle" fill="#4a4a4a">10</text>
<text x="276.30" y="728.10" font-size="5.6" font-weight="normal" text-anchor="middle" fill="#4a4a4a">100</text>
<text x="127.80" y="575.90" font-size="7.2" font-weight="bold" text-anchor="start" fill="#1f1b1c" textLength="145.40" lengthAdjust="spacingAndGlyphs">FIG. 5-TYPICAL JUNCTION CAPACITANCE</text>
<text x="94.60" y="655.60" font-size="7.2" font-weight="bold" text-anchor="middle" fill="#1f1b1c" textLength="102.80" lengthAdjust="spacingAndGlyphs" transform="rotate(-90 94.60 655.60)">JUNCTION CAPACITANCE, pF</text>
<text x="152.20" y="737.70" font-size="7.2" font-weight="bold" text-anchor="start" fill="#1f1b1c" textLength="95.70" lengthAdjust="spacingAndGlyphs">REVERSE VOLTAGE,VOLTS</text>
<line x1="367.50" y1="585.50" x2="548.90" y2="585.50" stroke="#1f1b1c" stroke-width="1.05"/>
<line x1="367.50" y1="707.50" x2="548.90" y2="707.50" stroke="#1f1b1c" stroke-width="1.05"/>
<line x1="367.50" y1="585.30" x2="367.50" y2="707.40" stroke="#1f1b1c" stroke-width="1.05"/>
<line x1="380.50" y1="585.30" x2="380.50" y2="707.40" stroke="#1f1b1c" stroke-width="1.05"/>
<line x1="389.50" y1="585.30" x2="389.50" y2="707.40" stroke="#1f1b1c" stroke-width="1.05"/>
<line x1="394.50" y1="585.30" x2="394.50" y2="707.40" stroke="#1f1b1c" stroke-width="1.05"/>
<line x1="399.50" y1="585.30" x2="399.50" y2="707.40" stroke="#1f1b1c" stroke-width="1.05"/>
<line x1="403.50" y1="585.30" x2="403.50" y2="707.40" stroke="#1f1b1c" stroke-width="1.05"/>
<line x1="405.50" y1="585.30" x2="405.50" y2="707.40" stroke="#1f1b1c" stroke-width="1.05"/>
<line x1="408.50" y1="585.30" x2="408.50" y2="707.40" stroke="#1f1b1c" stroke-width="1.05"/>
<line x1="410.50" y1="585.30" x2="410.50" y2="707.40" stroke="#1f1b1c" stroke-width="1.05"/>
<line x1="413.50" y1="585.30" x2="413.50" y2="707.40" stroke="#1f1b1c" stroke-width="1.05"/>
<line x1="427.50" y1="585.30" x2="427.50" y2="707.40" stroke="#1f1b1c" stroke-width="1.05"/>
<line x1="435.50" y1="585.30" x2="435.50" y2="707.40" stroke="#1f1b1c" stroke-width="1.05"/>
<line x1="440.50" y1="585.30" x2="440.50" y2="707.40" stroke="#1f1b1c" stroke-width="1.05"/>
<line x1="444.50" y1="585.30" x2="444.50" y2="707.40" stroke="#1f1b1c" stroke-width="1.05"/>
<line x1="448.50" y1="585.30" x2="448.50" y2="707.40" stroke="#1f1b1c" stroke-width="1.05"/>
<line x1="452.50" y1="585.30" x2="452.50" y2="707.40" stroke="#1f1b1c" stroke-width="1.05"/>
<line x1="454.50" y1="585.30" x2="454.50" y2="707.40" stroke="#1f1b1c" stroke-width="1.05"/>
<line x1="457.50" y1="585.30" x2="457.50" y2="707.40" stroke="#1f1b1c" stroke-width="1.05"/>
<line x1="459.50" y1="585.30" x2="459.50" y2="707.40" stroke="#1f1b1c" stroke-width="1.05"/>
<line x1="473.50" y1="585.30" x2="473.50" y2="707.40" stroke="#1f1b1c" stroke-width="1.05"/>
<line x1="480.50" y1="585.30" x2="480.50" y2="707.40" stroke="#1f1b1c" stroke-width="1.05"/>
<line x1="487.50" y1="585.30" x2="487.50" y2="707.40" stroke="#1f1b1c" stroke-width="1.05"/>
<line x1="490.50" y1="585.30" x2="490.50" y2="707.40" stroke="#1f1b1c" stroke-width="1.05"/>
<line x1="494.50" y1="585.30" x2="494.50" y2="707.40" stroke="#1f1b1c" stroke-width="1.05"/>
<line x1="498.50" y1="585.30" x2="498.50" y2="707.40" stroke="#1f1b1c" stroke-width="1.05"/>
<line x1="500.50" y1="585.30" x2="500.50" y2="707.40" stroke="#1f1b1c" stroke-width="1.05"/>
<line x1="503.50" y1="585.30" x2="503.50" y2="707.40" stroke="#1f1b1c" stroke-width="1.05"/>
<line x1="505.50" y1="585.30" x2="505.50" y2="707.40" stroke="#1f1b1c" stroke-width="1.05"/>
<line x1="518.50" y1="585.30" x2="518.50" y2="707.40" stroke="#1f1b1c" stroke-width="1.05"/>
<line x1="525.50" y1="585.30" x2="525.50" y2="707.40" stroke="#1f1b1c" stroke-width="1.05"/>
<line x1="530.50" y1="585.30" x2="530.50" y2="707.40" stroke="#1f1b1c" stroke-width="1.05"/>
<line x1="534.50" y1="585.30" x2="534.50" y2="707.40" stroke="#1f1b1c" stroke-width="1.05"/>
<line x1="538.50" y1="585.30" x2="538.50" y2="707.40" stroke="#1f1b1c" stroke-width="1.05"/>
<line x1="540.50" y1="585.30" x2="540.50" y2="707.40" stroke="#1f1b1c" stroke-width="1.05"/>
<line x1="543.50" y1="585.30" x2="543.50" y2="707.40" stroke="#1f1b1c" stroke-width="1.05"/>
<line x1="545.50" y1="585.30" x2="545.50" y2="707.40" stroke="#1f1b1c" stroke-width="1.05"/>
<line x1="548.50" y1="585.30" x2="548.50" y2="707.40" stroke="#1f1b1c" stroke-width="1.05"/>
<line x1="367.50" y1="587.50" x2="548.90" y2="587.50" stroke="#1f1b1c" stroke-width="1.05"/>
<line x1="367.50" y1="589.50" x2="548.90" y2="589.50" stroke="#1f1b1c" stroke-width="1.05"/>
<line x1="367.50" y1="592.50" x2="548.90" y2="592.50" stroke="#1f1b1c" stroke-width="1.05"/>
<line x1="367.50" y1="594.50" x2="548.90" y2="594.50" stroke="#1f1b1c" stroke-width="1.05"/>
<line x1="367.50" y1="597.50" x2="548.90" y2="597.50" stroke="#1f1b1c" stroke-width="1.05"/>
<line x1="367.50" y1="600.50" x2="548.90" y2="600.50" stroke="#1f1b1c" stroke-width="1.05"/>
<line x1="367.50" y1="604.50" x2="548.90" y2="604.50" stroke="#1f1b1c" stroke-width="1.05"/>
<line x1="367.50" y1="609.50" x2="548.90" y2="609.50" stroke="#1f1b1c" stroke-width="1.05"/>
<line x1="367.50" y1="615.50" x2="548.90" y2="615.50" stroke="#1f1b1c" stroke-width="1.05"/>
<line x1="367.50" y1="625.50" x2="548.90" y2="625.50" stroke="#1f1b1c" stroke-width="1.05"/>
<line x1="367.50" y1="628.50" x2="548.90" y2="628.50" stroke="#1f1b1c" stroke-width="1.05"/>
<line x1="367.50" y1="630.50" x2="548.90" y2="630.50" stroke="#1f1b1c" stroke-width="1.05"/>
<line x1="367.50" y1="633.50" x2="548.90" y2="633.50" stroke="#1f1b1c" stroke-width="1.05"/>
<line x1="367.50" y1="635.50" x2="548.90" y2="635.50" stroke="#1f1b1c" stroke-width="1.05"/>
<line x1="367.50" y1="638.50" x2="548.90" y2="638.50" stroke="#1f1b1c" stroke-width="1.05"/>
<line x1="367.50" y1="643.50" x2="548.90" y2="643.50" stroke="#1f1b1c" stroke-width="1.05"/>
<line x1="367.50" y1="647.50" x2="548.90" y2="647.50" stroke="#1f1b1c" stroke-width="1.05"/>
<line x1="367.50" y1="654.50" x2="548.90" y2="654.50" stroke="#1f1b1c" stroke-width="1.05"/>
<line x1="367.50" y1="667.50" x2="548.90" y2="667.50" stroke="#1f1b1c" stroke-width="1.05"/>
<line x1="367.50" y1="669.50" x2="548.90" y2="669.50" stroke="#1f1b1c" stroke-width="1.05"/>
<line x1="367.50" y1="672.50" x2="548.90" y2="672.50" stroke="#1f1b1c" stroke-width="1.05"/>
<line x1="367.50" y1="674.50" x2="548.90" y2="674.50" stroke="#1f1b1c" stroke-width="1.05"/>
<line x1="367.50" y1="677.50" x2="548.90" y2="677.50" stroke="#1f1b1c" stroke-width="1.05"/>
<line x1="367.50" y1="679.50" x2="548.90" y2="679.50" stroke="#1f1b1c" stroke-width="1.05"/>
<line x1="367.50" y1="684.50" x2="548.90" y2="684.50" stroke="#1f1b1c" stroke-width="1.05"/>
<line x1="367.50" y1="688.50" x2="548.90" y2="688.50" stroke="#1f1b1c" stroke-width="1.05"/>
<line x1="367.50" y1="695.50" x2="548.90" y2="695.50" stroke="#1f1b1c" stroke-width="1.05"/>
<path d="M368.00,683.00 C371.87,680.62 383.62,673.48 391.20,668.70 C398.78,663.92 407.37,658.08 413.50,654.30 C419.63,650.52 423.58,648.48 428.00,646.00 C432.42,643.52 435.00,642.03 440.00,639.40 C445.00,636.77 452.83,632.63 458.00,630.20 C463.17,627.77 467.33,626.23 471.00,624.80 C474.67,623.37 476.58,622.80 480.00,621.60 C483.42,620.40 487.28,618.63 491.50,617.60 C495.72,616.57 500.90,615.93 505.30,615.40 C509.70,614.87 513.50,614.80 517.90,614.40 C522.30,614.00 526.60,613.68 531.70,613.00 C536.80,612.32 545.70,610.75 548.50,610.30" fill="none" stroke="#1f1b1c" stroke-width="1.5" stroke-linecap="round" stroke-linejoin="round"/>
<text x="358.00" y="589.00" font-size="5.5" font-weight="normal" text-anchor="middle" fill="#4a4a4a">100</text>
<text x="358.00" y="629.00" font-size="5.5" font-weight="normal" text-anchor="middle" fill="#4a4a4a">10</text>
<text x="358.00" y="669.00" font-size="5.5" font-weight="normal" text-anchor="middle" fill="#4a4a4a">1</text>
<text x="358.00" y="708.00" font-size="5.5" font-weight="normal" text-anchor="middle" fill="#4a4a4a">0.1</text>
<text x="369.40" y="716.00" font-size="5.5" font-weight="normal" text-anchor="middle" fill="#4a4a4a">0.01</text>
<text x="412.50" y="716.00" font-size="5.5" font-weight="normal" text-anchor="middle" fill="#4a4a4a">0.1</text>
<text x="457.40" y="716.00" font-size="5.5" font-weight="normal" text-anchor="middle" fill="#4a4a4a">1</text>
<text x="504.20" y="716.00" font-size="5.5" font-weight="normal" text-anchor="middle" fill="#4a4a4a">10</text>
<text x="550.60" y="716.00" font-size="5.5" font-weight="normal" text-anchor="middle" fill="#4a4a4a">100</text>
<text x="370.90" y="575.90" font-size="7.2" font-weight="bold" text-anchor="start" fill="#1f1b1c" textLength="173.80" lengthAdjust="spacingAndGlyphs">FIG. 6-TYPICAL TRANSIENT THERMAL IMPEDANCE</text>
<text x="337.70" y="644.90" font-size="7.2" font-weight="bold" text-anchor="middle" fill="#1f1b1c" textLength="125.00" lengthAdjust="spacingAndGlyphs" transform="rotate(-90 337.70 644.90)" style="white-space:pre">TRANSIENT THERMAL  IMPEDANCE,</text>
<text x="345.50" y="646.80" font-size="7.2" font-weight="bold" text-anchor="middle" fill="#1f1b1c" textLength="17.60" lengthAdjust="spacingAndGlyphs" transform="rotate(-90 345.50 646.80)">°C/W</text>
<text x="416.70" y="741.30" font-size="7.2" font-weight="bold" text-anchor="start" fill="#1f1b1c" textLength="84.10" lengthAdjust="spacingAndGlyphs">t,PULSE DURATION,sec.</text>
<text x="142.10" y="124.70" font-size="12.1" font-weight="bold" text-anchor="start" fill="#1f1b1c" textLength="366.20" lengthAdjust="spacingAndGlyphs">RATINGS AND CHARACTERISTIC CURVES FR2AL THRU FR2ML</text>
<text x="289.60" y="795.00" font-size="10.0" font-weight="normal" text-anchor="start" fill="#111" textLength="24.60" lengthAdjust="spacingAndGlyphs">2 of 2</text>
<text x="480.20" y="795.40" font-size="12.0" font-weight="bold" text-anchor="start" fill="#111" textLength="97.70" lengthAdjust="spacingAndGlyphs">www.sunmate.tw</text>

<defs>
<linearGradient id="lg" gradientUnits="userSpaceOnUse" x1="42" y1="70" x2="98" y2="55">
 <stop offset="0" stop-color="#eab318"/><stop offset="0.45" stop-color="#e69d1d"/><stop offset="1" stop-color="#de8023"/>
</linearGradient>
<linearGradient id="tg" gradientUnits="userSpaceOnUse" x1="0" y1="55.3" x2="0" y2="66.7">
 <stop offset="0" stop-color="#2b2119"/><stop offset="0.35" stop-color="#2e251c"/>
 <stop offset="0.5" stop-color="#8f887c"/><stop offset="0.62" stop-color="#6d6559"/><stop offset="0.72" stop-color="#2b2119"/><stop offset="1" stop-color="#2b2119"/>
</linearGradient>
</defs>

<path d="M61.2,89.6 L97.6,72.9 L82.2,37.2" fill="none" stroke="#3d2c1c" stroke-width="1.6" stroke-linejoin="round"/>
<path d="M44.2,51.6 L80.0,36.9 Q81.8,36.1 82.6,37.9 L97.6,70.6 Q98.2,72.2 96.6,72.9 L62.4,88.6 Q60.8,89.3 60.0,87.7 L43.3,54.2 Q42.5,52.5 44.2,51.6 Z" fill="url(#lg)"/>
<path d="M56.9,45.9 C55,48 52,54 51,58.1 C50.5,61 50.8,64 52.2,65.5 C53.5,66.6 55,66.9 56,66.8 L64.7,65.2 C67.2,64.8 69.2,64.3 69.8,65.4 C70.6,67.2 67.2,70.2 64.7,72.4 C62.5,74.5 61.4,77.2 61.3,81.1 C61.3,83 61.8,85 63.0,87.9 L67.9,85.7 C67.3,84.6 67.1,83.5 67.2,82.4 C67.3,80 67.6,77.4 70.9,73.6 C72.5,71.8 74,70.5 75.3,69.3 C77.6,67 79.6,65 80.2,62.5 C80.7,60 79.6,57.6 76.5,57.0 C74,56.6 70.6,57.5 67.8,58.1 L61.6,59.6 C59.8,60 58.2,59.6 57.9,58.1 C57.6,56 58,54.5 58.5,53.7 C59.3,51.5 61.2,48.4 64.3,43.6 Z" fill="#fff"/>
<rect x="60.25" y="42.75" width="2.3" height="2.3" fill="#a7b96b" transform="rotate(45 61.40 43.90)"/>
<rect x="64.25" y="39.15" width="2.3" height="2.3" fill="#a7b96b" transform="rotate(45 65.40 40.30)"/>
<rect x="68.35" y="35.45" width="2.3" height="2.3" fill="#a7b96b" transform="rotate(45 69.50 36.60)"/>
<rect x="72.25" y="31.85" width="2.3" height="2.3" fill="#a7b96b" transform="rotate(45 73.40 33.00)"/>
<rect x="63.85" y="43.25" width="2.3" height="2.3" fill="#a7b96b" transform="rotate(45 65.00 44.40)"/>
<rect x="67.95" y="39.45" width="2.3" height="2.3" fill="#a7b96b" transform="rotate(45 69.10 40.60)"/>
<rect x="71.85" y="35.85" width="2.3" height="2.3" fill="#a7b96b" transform="rotate(45 73.00 37.00)"/>
<g fill="url(#tg)" transform="translate(0 66.5) skewX(-16.7) translate(0 -66.5)">
<rect x="105.80" y="55.30" width="13.70" height="2.50"/>
<rect x="105.80" y="55.30" width="4.40" height="6.70"/>
<rect x="105.80" y="59.80" width="10.70" height="2.20"/>
<rect x="112.00" y="59.80" width="4.50" height="6.70"/>
<rect x="105.30" y="64.00" width="11.20" height="2.50"/>
<rect x="121.90" y="55.30" width="4.30" height="11.20"/>
<rect x="129.80" y="55.30" width="5.40" height="11.20"/>
<rect x="128.40" y="64.00" width="6.80" height="2.50"/>
<rect x="137.50" y="55.30" width="4.30" height="11.20"/>
<rect x="144.20" y="55.30" width="7.30" height="2.50"/>
<rect x="147.10" y="55.30" width="4.40" height="11.20"/>
<rect x="153.40" y="55.30" width="4.50" height="11.20"/>
<rect x="159.90" y="55.30" width="13.90" height="2.50"/>
<rect x="162.10" y="55.30" width="5.40" height="11.20"/>
<rect x="169.30" y="55.30" width="4.50" height="11.20"/>
<rect x="188.30" y="58.00" width="5.30" height="8.50"/>
<rect x="194.60" y="55.30" width="11.80" height="2.30"/>
<rect x="199.50" y="55.30" width="4.90" height="11.20"/>
<rect x="209.30" y="55.30" width="13.70" height="2.30"/>
<rect x="209.80" y="55.30" width="5.20" height="11.20"/>
<rect x="209.80" y="64.20" width="13.80" height="2.30"/>
</g>
<polygon points="176.5,66.5 182.4,66.5 199.8,50.2 195.6,50.2" fill="url(#tg)"/>
<polygon points="217.8,60.0 225.6,60.0 225.0,62.5 217.2,62.5" fill="#e3922e"/>
</svg>
</body></html>
